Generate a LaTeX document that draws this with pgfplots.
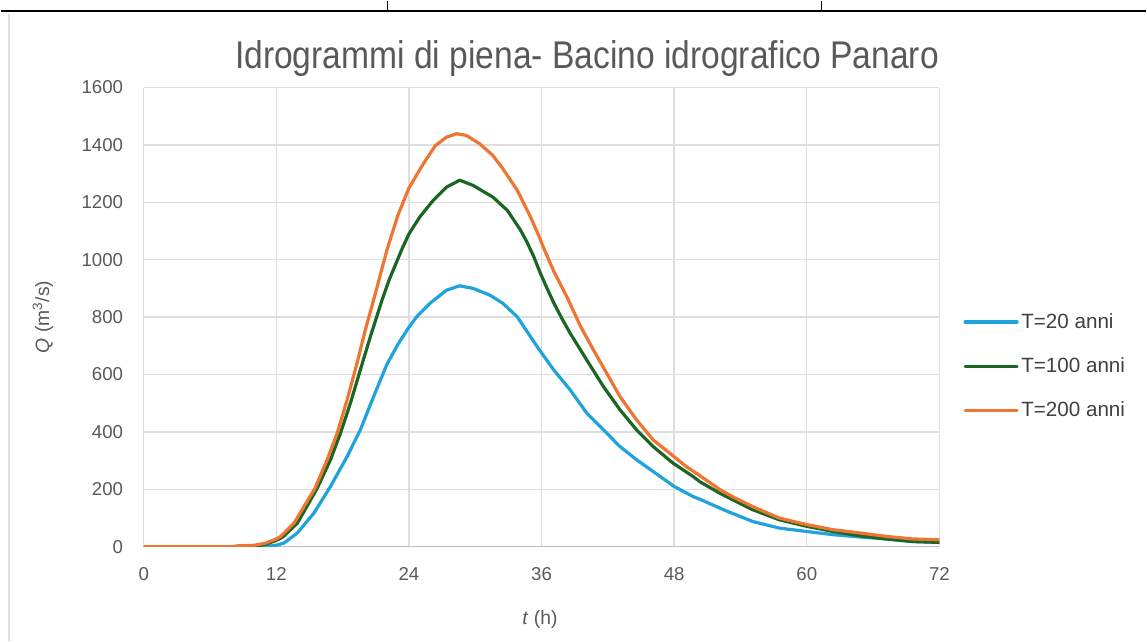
\documentclass[border=0pt]{standalone}
\usepackage{fontspec}
\setmainfont{Liberation Sans}
\newfontfamily\titlefont[FakeStretch=0.87]{Liberation Sans}
\usepackage{pgfplots}
\pgfplotsset{compat=1.18}
\definecolor{cblue}{RGB}{32,162,220}
\definecolor{cgreen}{RGB}{28,102,36}
\definecolor{corange}{RGB}{238,118,50}
\definecolor{tgray}{RGB}{89,89,89}
\definecolor{lgray}{RGB}{64,64,64}
\definecolor{ggray}{RGB}{222,222,222}
\definecolor{agray}{RGB}{191,191,191}

\pgfplotstableread{
t Q
0 0
8 0
8.5 3
10 5
11 12
12 27
12.4 36
13.6 82
14.5 140
15.5 204
16.6 303
17.5 395
18.4 511
19.3 639
20.05 755
20.96 882
22.0 1033
23 1155
24 1250
25.0 1315
25.6 1352
26.4 1398
27.4 1427
28.3 1439
29.2 1433
30.4 1404
31.6 1363
32.5 1317
33.8 1242
35.0 1149
35.8 1079
36.2 1040
37.1 960
38.3 870
39.5 770
40.7 685
41.9 604
43.1 523
44.6 442
46.1 372
47.6 326
49.1 279
50.3 248
52.1 200
53.5 170
55.1 140
57.5 100
60 77
62.4 59
64.8 48
67.2 36
69.6 27
72 24
}\torange

\pgfplotstableread{
t Q
0 0
9.5 0
10 2
11 8
12 22
12.6 34
13.9 82
15.7 204
16.9 303
17.8 395
18.7 500
19.6 616
20.5 731
21.56 859
22.2 929
23.4 1040
24 1090
25.0 1150
26.2 1207
27.4 1253
28.6 1277
29.8 1259
31.6 1218
32.9 1172
34.1 1103
34.7 1060
35.3 1010
35.9 952
36.5 900
37.1 850
37.8 798
38.6 743
40.1 650
41.6 558
43.1 477
44.6 407
46.1 349
47.9 291
49.7 245
50.3 227
52.1 187
52.7 175
55.1 129
57.5 94
60 71
62.4 53
64.8 38
67.2 27
69.6 18
72 15
}\tgreen

\pgfplotstableread{
t Q
0 0
10.5 0
11.5 3
12 5
12.7 13
13.9 48
15.4 117
16.9 210
18.4 314
19.6 407
20.8 523
22.0 635
23 705
24 765
24.7 801
25.9 848
27.4 894
28.6 909
29.8 900
31.3 877
32.5 848
33.8 801
35.6 697
37.1 616
38.6 546
40.1 465
41.6 407
43.1 349
44.6 303
46.1 262
48.0 210
49.7 175
50.3 166
52.1 135
52.7 125
55.1 88
57.5 65
60 53
62.4 42
64.8 34
67.2 27
69.6 18
72 15
}\tblue

\begin{document}
\begin{tikzpicture}
\path (0pt,0pt) rectangle (860.25pt,480.75pt);
\draw[black, line width=1.5pt] (0pt,473.25pt) -- (860.25pt,473.25pt);
\draw[black, line width=1pt] (290.25pt,473.25pt) -- (290.25pt,480.75pt);
\draw[black, line width=1pt] (616.5pt,473.25pt) -- (616.5pt,480.75pt);
\draw[ggray, line width=0.8pt] (6pt,0pt) -- (6pt,471pt);
\node[font=\titlefont\fontsize{29}{34}\selectfont, text=tgray] at (440.25pt,437pt) {Idrogrammi di piena- Bacino idrografico Panaro};
\begin{axis}[
  at={(107.25pt,70.5pt)}, anchor=south west,
  scale only axis, width=597.75pt, height=345pt,
  xmin=0, xmax=72, ymin=0, ymax=1600,
  xtick={0,12,24,36,48,60,72},
  ytick={0,200,400,600,800,1000,1200,1400,1600},
  major tick length=0pt,
  axis x line*=bottom, axis y line*=left,
  x axis line style={agray, line width=1pt},
  y axis line style={draw=none},
  grid=major,
  major grid style={ggray, line width=1.1pt},
  /pgf/number format/assume math mode=true,
  /pgf/number format/1000 sep={},
  tick label style={font=\fontsize{14}{16}\selectfont, text=tgray},
  xticklabel style={yshift=-12pt},
  yticklabel style={xshift=-12pt},
  xlabel={\textit{t} (h)},
  ylabel={\textit{Q} (m\textsuperscript{3}/s)},
  every axis x label/.style={at={(rel axis cs:0.498,-0.1587)}, anchor=center,
    font=\fontsize{14.5}{17}\selectfont, text=tgray},
  every axis y label/.style={at={(rel axis cs:-0.1267,0.5)}, anchor=center, rotate=90,
    font=\fontsize{14.5}{17}\selectfont, text=tgray},
  legend style={draw=none, fill=none, at={(1.03,0.393)}, anchor=west,
    font=\fontsize{15.5}{17}\selectfont, text=lgray, row sep=16.5pt,
    inner sep=0pt},
  legend cell align=left,
  legend image code/.code={\draw[#1, line cap=round] (0pt,0pt) -- (39pt,0pt);},
  every axis plot/.append style={line width=2.4pt, line join=round},
]
\addplot[cblue] table[x=t,y=Q] {\tblue};
\addlegendentry{T=20 anni}
\addplot[cgreen] table[x=t,y=Q] {\tgreen};
\addlegendentry{T=100 anni}
\addplot[corange] table[x=t,y=Q] {\torange};
\addlegendentry{T=200 anni}
\end{axis}
\end{tikzpicture}
\end{document}
